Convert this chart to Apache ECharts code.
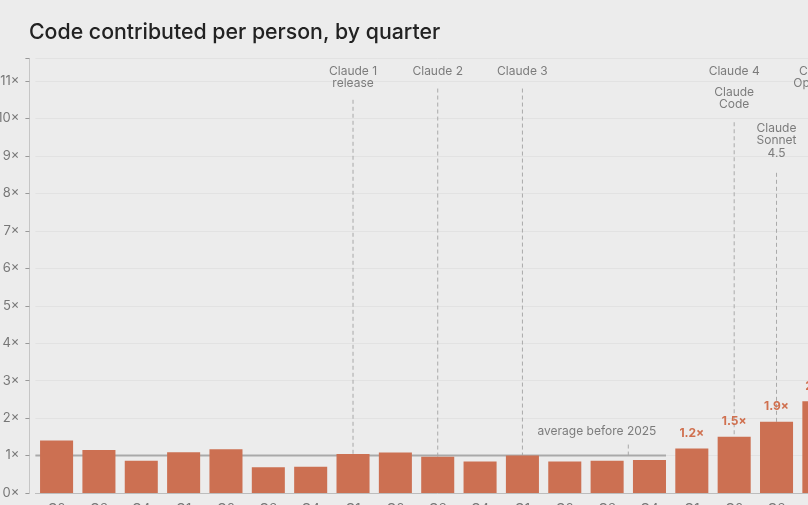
<!DOCTYPE html>
<html>
<head>
<meta charset="utf-8">
<script src="https://cdn.jsdelivr.net/npm/echarts@6/dist/echarts.min.js"></script>
<style>
  html, body { margin: 0; padding: 0; background: #ececec; overflow: hidden; }
  #chart { width: 900px; height: 560px; }
</style>
</head>
<body>
<div id="chart"></div>
<script>
// quarters, Q2 2021 .. Q4 2025
var quarters = ['Q2', 'Q3', 'Q4', 'Q1', 'Q2', 'Q3', 'Q4', 'Q1', 'Q2', 'Q3', 'Q4',
    'Q1', 'Q2', 'Q3', 'Q4', 'Q1', 'Q2', 'Q3', 'Q4'];
// code per person, relative to average before 2025
var codePerPerson = [1.40, 1.15, 0.86, 1.09, 1.17, 0.69, 0.70, 1.04, 1.08, 0.97, 0.84,
    1.00, 0.84, 0.86, 0.88, 1.19, 1.50, 1.90, 2.45];
var first2025 = 15;
var avgBefore2025 = 1.0;
var yTicks = [0, 1, 2, 3, 4, 5, 6, 7, 8, 9, 10, 11];

// model releases (quarter index + label)
var releaseIdx = [7, 9, 11, 16, 16, 17, 18];
var releaseNames = ['Claude 1\nrelease', 'Claude 2', 'Claude 3', 'Claude 4', 'Claude\nCode',
    'Claude\nSonnet\n4.5', 'Claude\nOpus 4.5'];

// layout only: where the labels and dashed lines start (in axis units)
var labelTop = [11.45, 11.45, 11.45, 11.45, 10.88, 9.92, 11.45];
var lineTop = [10.5, 10.8, 10.8, 9.9, 9.9, 8.55, 10.5];

var grey = '#a9a9a9';
var orange = '#cc7052';
var font = 'Inter, "Noto Sans", sans-serif';

var series = [];

series.push({
    name: 'code',
    type: 'bar',
    barWidth: '78%',
    z: 3,
    itemStyle: {color: orange},
    data: codePerPerson.map(function (v, i) {
        return {
            value: v,
            label: {
                show: i >= first2025,
                position: 'top',
                distance: 9,
                color: '#d0704f',
                fontWeight: 'bold',
                fontSize: 12,
                fontFamily: font,
                formatter: function (p) {
                    return p.value.toFixed(1) + '×';
                }
            }
        };
    })
});

// average line, stops at the last bar before 2025
series.push({
    type: 'line',
    xAxisIndex: 1,
    z: 1,
    symbol: 'none',
    silent: true,
    lineStyle: {color: grey, width: 2},
    data: [[-0.5, avgBefore2025], [first2025 - 1 + 0.39, avgBefore2025]]
});
// small dashed connector + text
series.push({
    type: 'line',
    xAxisIndex: 1,
    z: 1,
    symbol: 'none',
    lineStyle: {color: grey, width: 1, type: [4, 3]},
    data: [[first2025 - 1.5, avgBefore2025], [first2025 - 1.5, avgBefore2025 + 0.37]]
});
series.push({
    type: 'scatter',
    xAxisIndex: 1,
    symbolSize: 1,
    itemStyle: {color: 'rgba(0,0,0,0)'},
    label: {
        show: true,
        position: 'inside',
        color: '#5f5f5f',
        fontSize: 12,
        fontFamily: font,
        formatter: 'average before 2025'
    },
    data: [[first2025 - 2.24, avgBefore2025 + 0.64]]
});

// release lines + labels
releaseIdx.forEach(function (q, k) {
    if (releaseIdx[k + 1] !== q) {
        series.push({
            type: 'line',
            xAxisIndex: 1,
            z: 1,
            symbol: 'none',
            lineStyle: {color: grey, width: 1, type: [4, 3]},
            data: [[q, lineTop[k]], [q, 0]]
        });
    }
    series.push({
        type: 'scatter',
        xAxisIndex: 1,
        symbolSize: 1,
        itemStyle: {color: 'rgba(0,0,0,0)'},
        label: {
            show: true,
            position: 'bottom',
            distance: 0,
            align: 'center',
            color: '#5f5f5f',
            fontSize: 12,
            lineHeight: 12.5,
            fontFamily: font,
            formatter: releaseNames[k]
        },
        data: [[q, labelTop[k]]]
    });
});

var myChart = echarts.init(document.getElementById('chart'));
var option = {
    animation: false,
    backgroundColor: '#ececec',
    title: {
        text: 'Code contributed per person, by quarter',
        left: 24,
        top: 17,
        textStyle: {
            fontFamily: font,
            fontSize: 21.3,
            fontWeight: 500,
            color: '#222'
        }
    },
    grid: {
        left: 35.4,
        top: 58.6,
        width: 42.35 * quarters.length,
        height: 434.4,
        outerBoundsMode: 'none'
    },
    xAxis: [
        {
            type: 'category',
            data: quarters,
            axisLine: {lineStyle: {color: '#bdbdbd'}},
            axisTick: {alignWithLabel: true, length: 5, lineStyle: {color: '#888'}},
            axisLabel: {margin: 10, color: '#777', fontSize: 13, fontFamily: font}
        },
        {
            type: 'value',
            show: false,
            min: -0.5,
            max: quarters.length - 0.5
        }
    ],
    yAxis: {
        type: 'value',
        min: 0,
        max: 11.6,
        interval: 1,
        offset: 6,
        axisLine: {show: true, onZero: false, lineStyle: {color: '#c6c6c6'}},
        axisTick: {show: true, length: 4, lineStyle: {color: '#999'}},
        axisLabel: {
            margin: 10,
            color: '#777',
            fontSize: 13,
            fontFamily: font,
            formatter: function (v) {
                return yTicks.indexOf(v) >= 0 ? v + '×' : '';
            }
        },
        splitLine: {lineStyle: {color: '#e2e2e2'}}
    },
    series: series
};

myChart.setOption(option);
</script>
</body>
</html>
